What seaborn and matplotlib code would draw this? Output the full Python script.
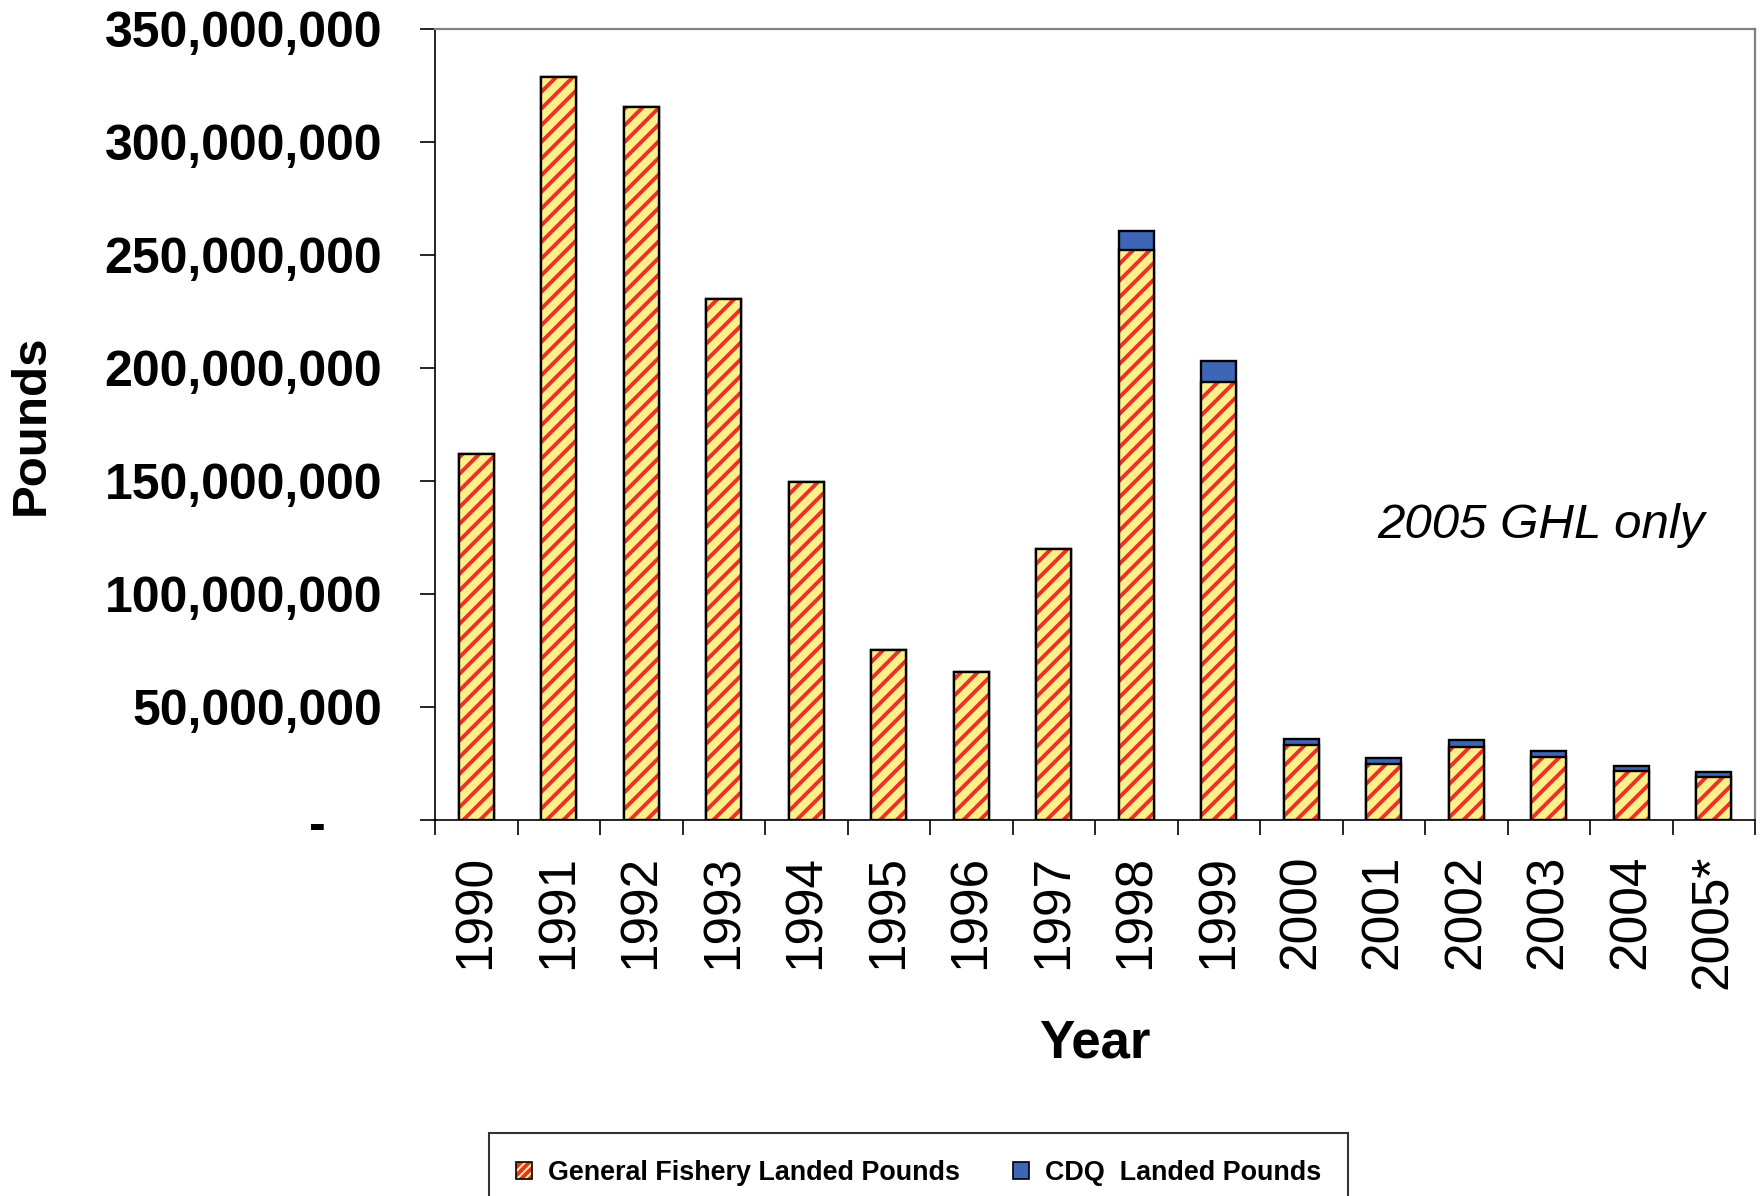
import numpy as np
import pandas as pd
import matplotlib
matplotlib.use("Agg")
import matplotlib.pyplot as plt
from matplotlib.patches import Patch
import seaborn as sns

# Landed pounds by year (millions of pounds)
years = ["1990", "1991", "1992", "1993", "1994", "1995", "1996", "1997",
         "1998", "1999", "2000", "2001", "2002", "2003", "2004", "2005*"]
general_mlbs = [162.0, 328.9, 315.3, 230.5, 149.5, 75.4, 65.4, 119.7,
                252.3, 193.9, 33.2, 25.0, 32.3, 28.0, 21.7, 19.0]
cdq_mlbs = [0.0, 0.0, 0.0, 0.0, 0.0, 0.0, 0.0, 0.0,
            8.5, 9.4, 2.8, 2.3, 3.0, 2.5, 2.2, 2.1]
y_ticks = [0, 50_000_000, 100_000_000, 150_000_000, 200_000_000,
           250_000_000, 300_000_000, 350_000_000]

YELLOW = "#fff08a"
RED = "#e8322a"
BLUE = "#3f66b6"
BAR_W = 0.42
EDGE_LW = 1.7

sns.set_theme(style="ticks")
plt.rcParams["font.family"] = ["Liberation Sans", "DejaVu Sans"]
plt.rcParams["hatch.linewidth"] = 2.8
for key in ("text.color", "axes.labelcolor", "xtick.color", "ytick.color",
            "axes.edgecolor"):
    plt.rcParams[key] = "black"

df = pd.DataFrame({
    "Year": years,
    "General": np.array(general_mlbs) * 1e6,
    "CDQ": np.array(cdq_mlbs) * 1e6,
})
df["Total"] = df["General"] + df["CDQ"]

fig = plt.figure(figsize=(17.63, 11.96), dpi=100)
ax = fig.add_axes([435 / 1763, 1 - 820 / 1196, 1320 / 1763, 791 / 1196])

# CDQ sits on top of the general fishery: draw the full stack in blue first
sns.barplot(data=df, x="Year", y="Total", order=years, color=BLUE,
            saturation=1, width=BAR_W, errorbar=None, ax=ax)
for p in ax.containers[-1]:
    p.set_edgecolor("black")
    p.set_linewidth(EDGE_LW)

# General fishery: yellow with red diagonal stripes
sns.barplot(data=df, x="Year", y="General", order=years, color=YELLOW,
            saturation=1, width=BAR_W, errorbar=None, ax=ax)
for p in ax.containers[-1]:
    p.set_edgecolor(RED)
    p.set_hatch("//")
    p.set_linewidth(0)

# Black outline over the striped bars
sns.barplot(data=df, x="Year", y="General", order=years, color=YELLOW,
            saturation=1, width=BAR_W, errorbar=None, ax=ax)
for p in ax.containers[-1]:
    p.set_facecolor("none")
    p.set_edgecolor("black")
    p.set_linewidth(EDGE_LW)

# Axes
ax.set_xlim(-0.5, len(years) - 0.5)
ax.set_ylim(0, 350_000_000)
ax.set_yticks(y_ticks, labels=[f"{v:,}" if v else "" for v in y_ticks],
              fontsize=36, fontweight="bold")
ax.tick_params(axis="y", length=11, width=1.2, pad=27, color="black",
               labelcolor="black", direction="out", left=True)
ax.annotate("-", xy=(0, 0), xycoords=("axes fraction", "data"),
            xytext=(-85, -5), textcoords="offset points",
            ha="center", va="center", fontsize=36, fontweight="bold")

ax.set_xticks(range(len(years)), labels=years, rotation=90, fontsize=37)
ax.set_xticks(np.arange(-0.5, len(years), 1), minor=True)
ax.tick_params(axis="x", which="major", length=0, pad=25, labelcolor="black")
ax.tick_params(axis="x", which="minor", length=11, width=1.2,
               color="black", direction="out", bottom=True)

for side in ("left", "bottom"):
    ax.spines[side].set_color("black")
    ax.spines[side].set_linewidth(1.2)
for side in ("top", "right"):
    ax.spines[side].set_visible(True)
    ax.spines[side].set_color("#808080")
    ax.spines[side].set_linewidth(1.6)

ax.set_ylabel("Pounds", fontsize=35.5, fontweight="bold")
ax.yaxis.label.set_va("center")
ax.yaxis.set_label_coords((31 - 435) / 1320, 0.5)
ax.set_xlabel("Year", fontsize=38, fontweight="bold")
ax.xaxis.set_label_coords(0.5, (820 - 1018) / 791)

ax.text(0.838, 0.372, "2005 GHL only", transform=ax.transAxes,
        ha="center", va="center", fontsize=35.5, style="italic")

# Legend below the chart
h_general = (Patch(facecolor=YELLOW, edgecolor=RED, hatch="////", linewidth=0),
             Patch(facecolor="none", edgecolor="black", linewidth=1.2))
h_cdq = Patch(facecolor=BLUE, edgecolor="black", linewidth=1.2)
leg = fig.legend([h_general, h_cdq],
                 ["General Fishery Landed Pounds", "CDQ  Landed Pounds"],
                 loc="upper left", bbox_to_anchor=(489 / 1763, 1 - 1133 / 1196),
                 ncol=2, frameon=True, fancybox=False, borderaxespad=0,
                 prop={"size": 19.4, "weight": "bold"},
                 handlelength=0.6, handleheight=0.6, handletextpad=0.6,
                 columnspacing=1.95, borderpad=1.0)
leg.get_frame().set_edgecolor("black")
leg.get_frame().set_linewidth(1.5)

fig.savefig("out.png", dpi=100)
